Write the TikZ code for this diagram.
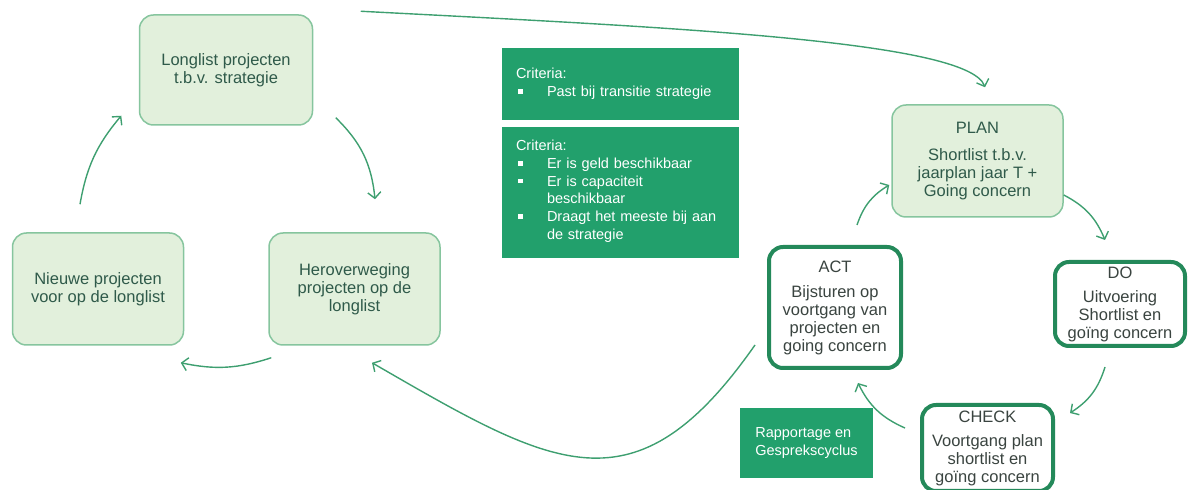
\documentclass[tikz,border=0pt]{standalone}
\usepackage{fontspec}
\setmainfont{Liberation Sans}
\usetikzlibrary{arrows.meta,positioning}

\definecolor{lichtgroen}{HTML}{E2F0DC}
\definecolor{randgroen}{HTML}{86C59E}
\definecolor{donkergroen}{HTML}{24895A}
\definecolor{vakgroen}{HTML}{22A06C}
\definecolor{pijlgroen}{HTML}{3E9F70}
\definecolor{tekstgroen}{HTML}{2F5A4A}
\definecolor{tekstgrijs}{HTML}{3A4440}

% bullet line, and an indented follow-up line
\newcommand{\critpunt}[1]{\par\noindent\makebox[31pt][l]{\hspace{2pt}\rule[3pt]{4.5pt}{4.5pt}}#1}
\newcommand{\critvervolg}[1]{\par\noindent\makebox[31pt][l]{\strut}#1}

\begin{document}
\begin{tikzpicture}[x=1pt,y=1pt,
	licht/.style={draw=randgroen, line width=1.5pt, fill=lichtgroen,%
		rounded corners=14pt, text=tekstgroen, align=center,%
		font=\fontsize{16.5}{18}\selectfont},
	donker/.style={draw=donkergroen, line width=4pt, fill=white,%
		rounded corners=14pt, text=tekstgrijs, align=center,%
		font=\fontsize{16.5}{18}\selectfont},
	vak/.style={fill=vakgroen, text=white, align=left,%
		font=\fontsize{14.5}{17.7}\selectfont},
	cyc/.style={draw=pijlgroen, line width=1.4pt,%
		-{Straight Barb[length=6pt,width=13pt]}}]
	\useasboundingbox (0,0) rectangle (1189,490);

	% longlist cycle
	\node[licht, minimum width=173pt, minimum height=110pt] (long) at (226,420)
		{Longlist projecten\\t.b.v. strategie};
	\node[licht, minimum width=171pt, minimum height=112pt] (nieuw) at (98,201)
		{Nieuwe projecten\\voor op de longlist};
	\node[licht, minimum width=171pt, minimum height=112pt] (herov) at (354.5,201)
		{Heroverweging\\projecten op de\\longlist};

	% criteria
	\node[vak, text width=209pt, inner xsep=14pt, minimum height=72pt] (crit1) at (620.5,406)
		{Criteria:\critpunt{Past bij transitie strategie}};
	\node[vak, text width=209pt, inner xsep=14pt, minimum height=131pt] (crit2) at (620.5,297.5)
		{Criteria:\critpunt{Er is geld beschikbaar}%
		\critpunt{Er is capaciteit}\critvervolg{beschikbaar}%
		\critpunt{Draagt het meeste bij aan}\critvervolg{de strategie}};

	% PDCA cycle
	\node[licht, minimum width=171pt, minimum height=112pt] (plan) at (977.5,329)
		{PLAN\\[9pt]Shortlist t.b.v.\\jaarplan jaar T +\\Going concern};
	\node[donker, minimum width=132pt, minimum height=121pt] (act) at (835,182.5)
		{ACT\\[7pt]Bijsturen op\\voortgang van\\projecten en\\going concern};
	\node[donker, minimum width=130pt, minimum height=84pt] (do) at (1120,186)
		{DO\\[6pt]Uitvoering\\Shortlist en\\goïng concern};
	\node[donker, minimum width=131pt, minimum height=86pt] (check) at (987.5,42)
		{CHECK\\[6pt]Voortgang plan\\shortlist en\\goïng concern};
	\node[vak, minimum width=133pt, minimum height=70pt] (rapp) at (806.5,47)
		{Rapportage en\\Gesprekscyclus};

	% arrows
	\draw[cyc] ([xshift=22.5pt,yshift=8pt]long.south east) to[bend left=20] ([xshift=20.5pt,yshift=33pt]herov.north);
	\draw[cyc] ([xshift=3pt,yshift=-12pt]herov.south west) to[bend left=15] ([xshift=-3.5pt,yshift=-17pt]nieuw.south east);
	\draw[cyc] ([xshift=-18pt,yshift=28pt]nieuw.north) to[bend left=15] ([xshift=-17.5pt,yshift=10pt]long.south west);
	\draw[cyc] ([xshift=47.5pt,yshift=3pt]long.north east) to[out=-3,in=110,out distance=300pt,in distance=50pt] ([xshift=7.5pt,yshift=17pt]plan.north);
	\draw[cyc] ([yshift=-34pt]plan.east) to[bend left=20] ([xshift=-15pt,yshift=20pt]do.north);
	\draw[cyc] ([xshift=-15pt,yshift=-19pt]do.south) to[bend left=20] ([xshift=15pt,yshift=35pt]check.east);
	\draw[cyc] ([xshift=-15pt,yshift=20pt]check.west) to[bend left=20] ([xshift=23pt,yshift=-13pt]act.south);
	\draw[cyc] ([xshift=22pt,yshift=20pt]act.north) to[bend left=20] ([xshift=-2pt,yshift=-24pt]plan.west);
	\draw[cyc] ([xshift=-12pt,yshift=-37.5pt]act.west) to[out=-125,in=-30,looseness=1.4] ([xshift=17.5pt,yshift=-17pt]herov.south);
\end{tikzpicture}
\end{document}
